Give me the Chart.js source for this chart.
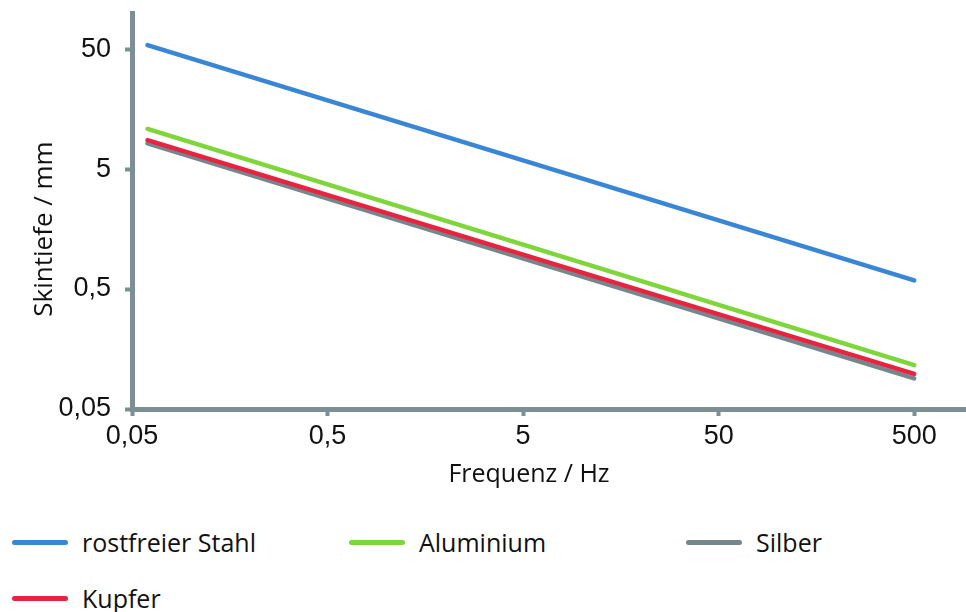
<!DOCTYPE html>
<html>
<head>
<meta charset="utf-8">
<script src="https://cdn.jsdelivr.net/npm/chart.js@4/dist/chart.umd.min.js"></script>
<style>
  html, body { margin: 0; padding: 0; background: #fff; }
  #wrap { position: relative; width: 966px; height: 612px; overflow: hidden; }
  #box { position: absolute; left: 0; top: 0; width: 966px; height: 500px; }
  .lg { position: absolute; font-family: "Open Sans", sans-serif; font-size: 25px; color: #111; white-space: nowrap; line-height: 30px; }
  .lg span.sw { position: absolute; left: 0; top: 13px; width: 56px; height: 5px; border-radius: 3px; }
  .lg span.tx { position: absolute; left: 70px; top: 0; }
</style>
</head>
<body>
<div id="wrap">
  <div id="box"><canvas id="c"></canvas></div>
  <div id="legend"></div>
</div>
<script>
// ---- data ----
const frequencies = [0.06, 500];               // Hz
const stahl      = [54, 0.59];                 // mm
const aluminium  = [10.8, 0.116];
const kupfer     = [8.7, 0.098];
const silber     = [8.2, 0.09];
const xTicks = [0.05, 0.5, 5, 50, 500];
const yTicks = [0.05, 0.5, 5, 50];
const seriesNames = ['rostfreier Stahl', 'Aluminium', 'Silber', 'Kupfer'];
const xTitle = 'Frequenz / Hz';
const yTitle = 'Skintiefe / mm';

const colors = {
  'rostfreier Stahl': '#3a86d6',
  'Aluminium': '#7ed63a',
  'Kupfer': '#e8233f',
  'Silber': '#76868d'
};
const seriesData = {
  'rostfreier Stahl': stahl,
  'Aluminium': aluminium,
  'Kupfer': kupfer,
  'Silber': silber
};
const axisColor = '#7b8f95';

function pts(arr) { return frequencies.map((f, i) => ({ x: f, y: arr[i] })); }
const drawOrder = ['rostfreier Stahl', 'Aluminium', 'Kupfer', 'Silber'];
const datasets = drawOrder.map(n => ({
  label: n,
  data: pts(seriesData[n]),
  borderColor: colors[n],
  backgroundColor: colors[n],
  borderWidth: 4.5,
  borderCapStyle: 'round',
  pointRadius: 0,
  fill: false,
  tension: 0
}));

const fmt = v => String(v).replace('.', ',');

const titlePlugin = {
  id: 'axisTitles',
  afterDraw(chart) {
    const ctx = chart.ctx, a = chart.chartArea;
    ctx.save();
    ctx.fillStyle = '#111';
    ctx.font = '25px "Open Sans", sans-serif';
    ctx.textAlign = 'center';
    ctx.textBaseline = 'middle';
    ctx.fillText(xTitle, (a.left + a.right) / 2 - 20, a.bottom + 66);
    ctx.font = '26px "Open Sans", sans-serif';
    ctx.translate(a.left - 87, (a.top + a.bottom) / 2 + 18);
    ctx.rotate(-Math.PI / 2);
    ctx.fillText(yTitle, 0, 0);
    ctx.restore();
  }
};

const tickFont = { family: '"Liberation Sans", Arial, sans-serif', size: 27, lineHeight: 1 };

const chart = new Chart(document.getElementById('c'), {
  type: 'line',
  data: { datasets },
  options: {
    responsive: true,
    maintainAspectRatio: false,
    animation: false,
    layout: { padding: { top: 13, right: 0, bottom: 0, left: 0 } },
    plugins: { legend: { display: false }, tooltip: { enabled: false } },
    scales: {
      x: {
        type: 'logarithmic',
        min: 0.05, max: 920,
        afterFit(s) { s.height = 91; s.paddingLeft = 0; s.paddingRight = 0; },
        afterBuildTicks(s) { s.ticks = xTicks.map(v => ({ value: v })); },
        grid: { drawOnChartArea: false, tickLength: 7, tickWidth: 4, tickColor: axisColor },
        border: { color: axisColor, width: 5 },
        ticks: {
          autoSkip: false, maxRotation: 0, padding: 7, color: '#111',
          font: tickFont,
          callback: v => fmt(v)
        }
      },
      y: {
        type: 'logarithmic',
        min: 0.05, max: 100,
        afterFit(s) { s.width = 132; s.paddingTop = 0; s.paddingBottom = 0; },
        afterBuildTicks(s) { s.ticks = yTicks.map(v => ({ value: v })); },
        grid: { drawOnChartArea: false, tickLength: 7, tickWidth: 4, tickColor: axisColor },
        border: { color: axisColor, width: 5 },
        ticks: {
          autoSkip: false, padding: 14, color: '#111',
          font: tickFont,
          callback: v => fmt(v)
        }
      }
    }
  },
  plugins: [titlePlugin]
});

// HTML legend (3 columns)
const lg = document.getElementById('legend');
seriesNames.forEach((n, i) => {
  const col = i % 3, row = Math.floor(i / 3);
  const d = document.createElement('div');
  d.className = 'lg';
  d.style.left = (12 + col * 337) + 'px';
  d.style.top = (527 + row * 56) + 'px';
  d.innerHTML = '<span class="sw" style="background:' + colors[n] + '"></span><span class="tx">' + n + '</span>';
  lg.appendChild(d);
});
</script>
</body>
</html>
